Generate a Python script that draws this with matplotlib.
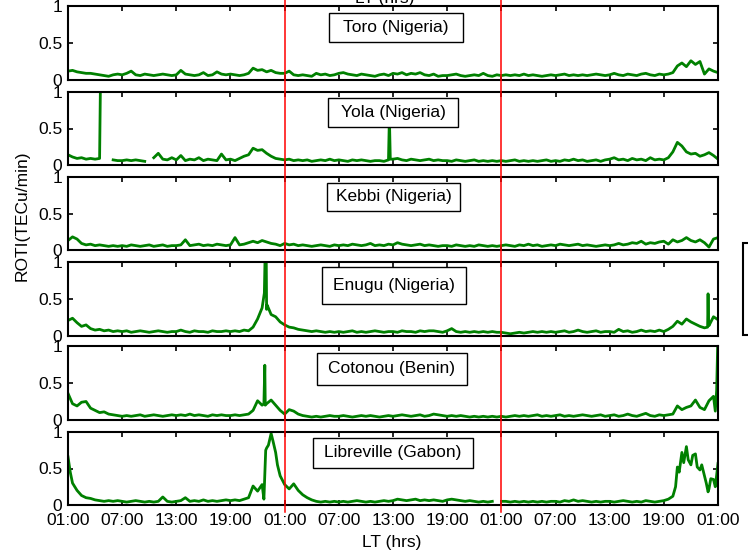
import numpy as np
import matplotlib
matplotlib.use("Agg")
import matplotlib.pyplot as plt
from matplotlib.patches import Rectangle
from matplotlib.lines import Line2D
import matplotlib.transforms as mtransforms

plt.rcParams['font.family'] = ['Liberation Sans', 'DejaVu Sans']

# sampling step of the ROTI series (hours from 01:00 LT on day 1)
step_hours = 0.5
tick_hours = [0, 6, 12, 18, 24, 30, 36, 42, 48, 54, 60, 66, 72]
tick_labels = ['01:00', '07:00', '13:00', '19:00', '01:00', '07:00', '13:00',
               '19:00', '01:00', '07:00', '13:00', '19:00', '01:00']
boundary_hours = [24, 48]

stations = ['Toro (Nigeria)', 'Yola (Nigeria)', 'Kebbi (Nigeria)',
            'Enugu (Nigeria)', 'Cotonou (Benin)', 'Libreville (Gabon)']

nan = np.nan

toro = [
    0.12, 0.13, 0.11, 0.10, 0.09, 0.09, 0.08, 0.07, 0.06, 0.05, 0.07, 0.08,
    0.07, 0.09, 0.12, 0.07, 0.06, 0.08, 0.07, 0.06, 0.07, 0.08, 0.07, 0.06,
    0.07, 0.13, 0.08, 0.07, 0.06, 0.07, 0.10, 0.06, 0.07, 0.11, 0.08, 0.07,
    0.08, 0.07, 0.06, 0.07, 0.09, 0.16, 0.13, 0.14, 0.11, 0.13, 0.10, 0.09,
    0.09, 0.12, 0.07, 0.06, 0.07, 0.06, 0.05, 0.09, 0.07, 0.08, 0.06, 0.07,
    0.09, 0.10, 0.08, 0.07, 0.06, 0.08, 0.07, 0.06, 0.05, 0.07, 0.08, 0.06,
    0.09, 0.08, 0.10, 0.07, 0.09, 0.08, 0.10, 0.07, 0.06, 0.08, 0.05, 0.06,
    0.06, 0.07, 0.08, 0.06, 0.05, 0.06, 0.07, 0.06, 0.09, 0.06, 0.05, 0.07,
    0.06, 0.07, 0.06, 0.07, 0.06, 0.08, 0.06, 0.07, 0.06, 0.05, 0.06, 0.07,
    0.06, 0.07, 0.08, 0.06, 0.07, 0.06, 0.07, 0.06, 0.07, 0.08, 0.07, 0.06,
    0.07, 0.09, 0.07, 0.06, 0.08, 0.07, 0.06, 0.08, 0.09, 0.07, 0.06, 0.08,
    0.07, 0.08, 0.10, 0.19, 0.23, 0.18, 0.26, 0.21, 0.25, 0.08, 0.15, 0.12,
    0.10]
toro_extra = []

yola = [
    0.14, 0.11, 0.09, 0.10, 0.08, 0.09, 0.08, 0.09, nan, nan, 0.07, 0.06,
    0.06, 0.07, 0.06, 0.07, 0.06, 0.05, nan, 0.10, 0.16, 0.08, 0.07, 0.10,
    0.07, 0.13, 0.06, 0.08, 0.07, 0.10, 0.06, 0.08, 0.07, 0.06, 0.15, 0.07,
    0.08, 0.06, 0.09, 0.12, 0.14, 0.23, 0.20, 0.21, 0.16, 0.12, 0.09, 0.08,
    0.07, 0.08, 0.06, 0.07, 0.06, 0.07, 0.05, 0.06, 0.07, 0.06, 0.08, 0.06,
    0.07, 0.06, 0.05, 0.07, 0.06, 0.07, 0.06, 0.05, 0.06, 0.06, 0.05, 0.07,
    0.08, 0.09, 0.07, 0.06, 0.08, 0.07, 0.06, 0.07, 0.08, 0.06, 0.07, 0.06,
    0.06, 0.05, 0.07, 0.06, 0.05, 0.06, 0.07, 0.05, 0.06, 0.05, 0.06, 0.05,
    0.06, 0.05, 0.06, 0.07, 0.05, 0.06, 0.05, 0.06, 0.05, 0.06, 0.07, 0.05,
    0.06, 0.05, 0.07, 0.06, 0.08, 0.06, 0.07, 0.05, 0.06, 0.07, 0.05, 0.07,
    0.08, 0.10, 0.07, 0.08, 0.06, 0.09, 0.07, 0.08, 0.06, 0.10, 0.07, 0.08,
    0.07, 0.10, 0.18, 0.31, 0.26, 0.18, 0.15, 0.16, 0.12, 0.14, 0.17, 0.13,
    0.08]
yola_extra = [(3.6, 1.2), (35.6, 0.66), (35.7, 0.08)]

kebbi = [
    0.13, 0.18, 0.15, 0.09, 0.07, 0.08, 0.06, 0.07, 0.06, 0.05, 0.06, 0.05,
    0.06, 0.05, 0.07, 0.06, 0.05, 0.06, 0.07, 0.05, 0.06, 0.07, 0.05, 0.06,
    0.06, 0.07, 0.14, 0.06, 0.07, 0.08, 0.06, 0.07, 0.06, 0.08, 0.07, 0.06,
    0.07, 0.17, 0.07, 0.08, 0.10, 0.12, 0.10, 0.13, 0.11, 0.09, 0.08, 0.06,
    0.09, 0.07, 0.08, 0.06, 0.07, 0.06, 0.05, 0.06, 0.07, 0.06, 0.05, 0.07,
    0.06, 0.07, 0.06, 0.08, 0.07, 0.06, 0.07, 0.09, 0.06, 0.07, 0.06, 0.08,
    0.07, 0.10, 0.08, 0.07, 0.06, 0.07, 0.08, 0.06, 0.07, 0.06, 0.05, 0.06,
    0.06, 0.05, 0.07, 0.06, 0.05, 0.06, 0.05, 0.07, 0.06, 0.05, 0.06, 0.05,
    0.06, 0.07, 0.06, 0.05, 0.07, 0.06, 0.08, 0.06, 0.07, 0.05, 0.06, 0.07,
    0.06, 0.08, 0.07, 0.06, 0.07, 0.08, 0.06, 0.07, 0.06, 0.05, 0.06, 0.07,
    0.06, 0.07, 0.09, 0.07, 0.08, 0.10, 0.09, 0.12, 0.08, 0.10, 0.09, 0.11,
    0.12, 0.08, 0.14, 0.11, 0.13, 0.17, 0.13, 0.11, 0.14, 0.10, 0.04, 0.15,
    0.17]
kebbi_extra = []

enugu = [
    0.21, 0.24, 0.18, 0.13, 0.15, 0.10, 0.08, 0.09, 0.07, 0.08, 0.06, 0.07,
    0.06, 0.07, 0.05, 0.06, 0.07, 0.06, 0.05, 0.06, 0.07, 0.06, 0.05, 0.06,
    0.06, 0.08, 0.06, 0.05, 0.07, 0.06, 0.06, 0.05, 0.07, 0.06, 0.06, 0.07,
    0.06, 0.07, 0.06, 0.08, 0.07, 0.12, 0.23, 0.38, 0.36, 0.29, 0.26, 0.19,
    0.15, 0.12, 0.11, 0.09, 0.08, 0.07, 0.06, 0.07, 0.06, 0.05, 0.06, 0.05,
    0.06, 0.05, 0.06, 0.07, 0.05, 0.06, 0.05, 0.06, 0.07, 0.06, 0.05, 0.06,
    0.06, 0.05, 0.07, 0.06, 0.06, 0.05, 0.07, 0.06, 0.07, 0.07, 0.06, 0.05,
    0.07, 0.10, 0.06, 0.05, 0.06, 0.05, 0.06, 0.05, 0.06, 0.05, 0.06, 0.05,
    0.05, 0.04, 0.03, 0.04, 0.05, 0.04, 0.05, 0.06, 0.05, 0.06, 0.05, 0.06,
    0.05, 0.06, 0.07, 0.05, 0.06, 0.08, 0.06, 0.05, 0.06, 0.07, 0.05, 0.06,
    0.06, 0.05, 0.09, 0.06, 0.07, 0.05, 0.06, 0.08, 0.06, 0.07, 0.06, 0.08,
    0.06, 0.09, 0.13, 0.20, 0.16, 0.23, 0.19, 0.16, 0.13, 0.11, 0.14, 0.26,
    0.22]
enugu_extra = [(21.75, 0.58), (21.85, 1.2), (21.95, 1.2), (22.05, 0.42),
               (70.85, 0.12), (70.9, 0.57), (70.95, 0.18)]

cotonou = [
    0.36, 0.22, 0.19, 0.24, 0.25, 0.16, 0.13, 0.10, 0.11, 0.08, 0.07, 0.06,
    0.05, 0.06, 0.05, 0.06, 0.07, 0.05, 0.06, 0.07, 0.06, 0.05, 0.06, 0.07,
    0.06, 0.07, 0.06, 0.08, 0.06, 0.07, 0.06, 0.05, 0.07, 0.06, 0.07, 0.06,
    0.06, 0.07, 0.06, 0.07, 0.08, 0.13, 0.26, 0.20, 0.22, 0.27, 0.20, 0.13,
    0.08, 0.14, 0.12, 0.08, 0.06, 0.05, 0.04, 0.05, 0.04, 0.05, 0.06, 0.05,
    0.05, 0.06, 0.05, 0.04, 0.05, 0.06, 0.05, 0.06, 0.05, 0.04, 0.05, 0.06,
    0.05, 0.06, 0.07, 0.06, 0.05, 0.06, 0.07, 0.05, 0.06, 0.08, 0.07, 0.06,
    0.05, 0.06, 0.05, 0.06, 0.05, 0.04, 0.05, 0.04, 0.05, 0.04, 0.05, 0.04,
    0.05, 0.04, 0.05, 0.06, 0.05, 0.06, 0.05, 0.06, 0.07, 0.05, 0.06, 0.05,
    0.06, 0.07, 0.05, 0.06, 0.05, 0.06, 0.07, 0.06, 0.05, 0.06, 0.07, 0.05,
    0.06, 0.07, 0.05, 0.06, 0.08, 0.06, 0.05, 0.07, 0.09, 0.06, 0.05, 0.07,
    0.06, 0.07, 0.08, 0.19, 0.14, 0.17, 0.19, 0.27, 0.17, 0.14, 0.26, 0.32,
    1.2]
cotonou_extra = [(21.7, 0.22), (21.8, 0.74), (21.85, 0.20),
                 (71.7, 0.12), (71.85, 0.40)]

libreville = [
    0.66, 0.30, 0.20, 0.13, 0.10, 0.09, 0.07, 0.06, 0.05, 0.06, 0.05, 0.06,
    0.05, 0.04, 0.05, 0.06, 0.05, 0.04, 0.05, 0.04, 0.05, 0.11, 0.05, 0.04,
    0.05, 0.06, 0.10, 0.05, 0.06, 0.05, 0.07, 0.05, 0.06, 0.05, 0.06, 0.07,
    0.06, 0.07, 0.06, 0.08, 0.10, 0.26, 0.19, 0.28, 0.78, 0.98, 0.72, 0.40,
    0.28, 0.22, 0.29, 0.20, 0.14, 0.10, 0.07, 0.05, 0.04, 0.05, 0.04, 0.05,
    0.04, 0.05, 0.04, 0.05, 0.06, 0.05, 0.04, 0.05, 0.04, 0.05, 0.06, 0.05,
    0.06, 0.08, 0.07, 0.06, 0.07, 0.08, 0.06, 0.07, 0.06, 0.07, 0.06, 0.05,
    0.07, 0.08, 0.07, 0.06, 0.05, 0.06, 0.05, 0.04, 0.05, 0.04, 0.05, nan,
    nan, 0.05, 0.04, 0.05, 0.04, 0.05, 0.04, 0.05, 0.04, 0.05, 0.04, 0.05,
    0.05, 0.04, 0.06, 0.05, 0.07, 0.05, 0.06, 0.05, 0.04, 0.05, 0.04, 0.05,
    0.05, 0.04, 0.05, 0.06, 0.05, 0.04, 0.05, 0.04, 0.06, 0.05, 0.04, 0.05,
    0.06, 0.08, 0.12, 0.52, 0.72, 0.80, 0.55, 0.70, 0.48, 0.40, 0.22, 0.35,
    0.57]
libreville_extra = [(0.25, 0.45), (21.7, 0.08), (21.9, 0.75), (22.2, 0.82),
                    (22.7, 0.88), (23.2, 0.55), (48.1, 0.05),
                    (67.3, 0.25), (67.7, 0.45), (68.2, 0.58), (68.7, 0.62),
                    (69.2, 0.68), (69.7, 0.52), (70.2, 0.55), (70.7, 0.30),
                    (70.9, 0.18), (71.2, 0.36), (71.7, 0.25)]

series = [(toro, toro_extra), (yola, yola_extra), (kebbi, kebbi_extra),
          (enugu, enugu_extra), (cotonou, cotonou_extra),
          (libreville, libreville_extra)]


def build_series(values, extra):
    """Merge the regular half-hour samples with the extra spike samples."""
    t = np.arange(len(values)) * step_hours
    v = np.array(values, dtype=float)
    if extra:
        et, ev = zip(*extra)
        t = np.concatenate([t, et])
        v = np.concatenate([v, ev])
    order = np.argsort(t, kind='stable')
    return t[order], v[order]


W, H = 748, 552
fig = plt.figure(figsize=(W / 100, H / 100), dpi=100)

# panel extents in pixels (top, bottom)
left_px, right_px = 68, 718
panel_px = [(6, 80), (92, 165), (177, 250), (262, 336), (346, 420), (432, 505)]
# station label boxes in pixels (x0, x1, y0, y1)
box_px = [(329, 463, 13, 42), (328, 458, 98, 127), (327, 460, 183, 211),
          (322, 466, 267, 304), (317, 467, 353, 385), (313, 473, 438, 468)]

axes = []
for i, (top, bot) in enumerate(panel_px):
    ax = fig.add_axes([left_px / W, 1 - bot / H, (right_px - left_px) / W,
                       (bot - top) / H])
    t, v = build_series(*series[i])
    ax.plot(t, v, color='#008000', lw=2.0, solid_joinstyle='round')
    ax.set_xlim(0, 72)
    ax.set_ylim(0, 1)
    ax.set_yticks([0, 0.5, 1])
    ax.set_yticklabels(['0', '0.5', '1'])
    ax.set_xticks(tick_hours)
    if i == len(panel_px) - 1:
        ax.set_xticklabels(tick_labels)
    else:
        ax.set_xticklabels([])
    ax.tick_params(direction='in', length=3.5, width=1.2, top=True,
                   right=True, labelsize=12.5, pad=4)
    ax.tick_params(axis='x', pad=6)
    for sp in ax.spines.values():
        sp.set_linewidth(1.5)
    axes.append(ax)

# station labels in boxes
for name, (x0, x1, y0, y1) in zip(stations, box_px):
    fig.add_artist(Rectangle((x0 / W, 1 - y1 / H), (x1 - x0) / W,
                             (y1 - y0) / H, transform=fig.transFigure,
                             facecolor='white', edgecolor='black', lw=1.0,
                             zorder=5))
    fig.text((x0 + x1) / 2 / W, 1 - (y0 + y1) / 2 / H, name, ha='center',
             va='center', fontsize=12.5, zorder=6)

# red day boundaries spanning all panels
trans = mtransforms.blended_transform_factory(axes[-1].transData,
                                              fig.transFigure)
for bh in boundary_hours:
    fig.add_artist(Line2D([bh, bh], [1 - 512 / H, 1.0], transform=trans,
                          color='red', lw=1.1, zorder=4))

# partial legend box at the right edge
fig.add_artist(Rectangle((743 / W, 1 - 335 / H), 20 / W, 92 / H,
                         transform=fig.transFigure, facecolor='white',
                         edgecolor='black', lw=1.5, zorder=5))

fig.text(22 / W, 1 - 216 / H, 'ROTI(TECu/min)', rotation=90, ha='center',
         va='center', fontsize=12.5)
fig.text(392 / W, 1 - 543 / H, 'LT (hrs)', ha='center', va='center',
         fontsize=12.5)
fig.text(385 / W, 1 - 3 / H, 'LT (hrs)', ha='center', va='baseline',
         fontsize=12.5)

fig.savefig('out.png', dpi=100)
